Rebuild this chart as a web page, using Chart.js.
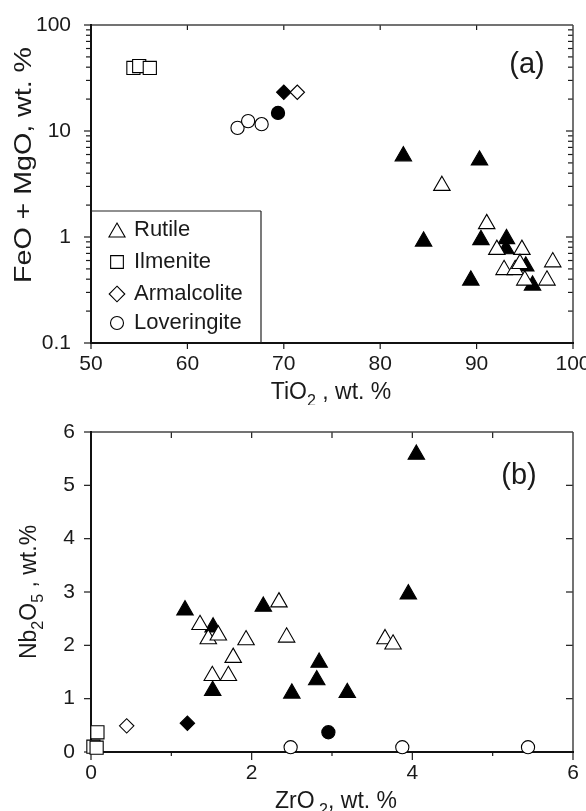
<!DOCTYPE html>
<html><head><meta charset="utf-8">
<script src="https://cdn.jsdelivr.net/npm/chart.js@4.4.0/dist/chart.umd.min.js"></script>
<style>
html,body{margin:0;padding:0;background:#fff;width:586px;height:811px;overflow:hidden}
#wa{position:absolute;left:0;top:0;width:586px;height:405px}
#wb{position:absolute;left:0;top:405px;width:586px;height:406px}
canvas{display:block}
</style></head><body>
<div id="wa"><canvas id="ca" width="586" height="405"></canvas></div>
<div id="wb"><canvas id="cb" width="586" height="406"></canvas></div>
<script>
// ---------- tick labels ----------
const tiO2Ticks = [50, 60, 70, 80, 90, 100];
const feoMgoTicks = [0.1, 1, 10, 100];
const zrO2Ticks = [0, 2, 4, 6];
const nb2O5Ticks = [0, 1, 2, 3, 4, 5, 6];
const legendLabels = ['Rutile', 'Ilmenite', 'Armalcolite', 'Loveringite'];

// ---------- panel (a): TiO2 vs FeO+MgO ----------
const a_rutileOpen_TiO2   = [86.4, 91.05, 92.1, 94.7, 97.9, 92.85, 94.0, 94.5, 95.0, 97.3];
const a_rutileOpen_FeMg   = [3.05, 1.33, 0.76, 0.76, 0.58, 0.49, 0.49, 0.56, 0.39, 0.39];
const a_rutileFilled_TiO2 = [82.4, 90.3, 84.5, 90.45, 93.1, 93.05, 95.1, 95.8, 89.4];
const a_rutileFilled_FeMg = [5.8, 5.3, 0.91, 0.94, 0.96, 0.77, 0.53, 0.35, 0.39];
const a_ilmenite_TiO2     = [54.4, 55.0, 56.1];
const a_ilmenite_FeMg     = [39.3, 41, 39.3];
const a_armOpen_TiO2      = [71.4];
const a_armOpen_FeMg      = [23.2];
const a_armFilled_TiO2    = [70.0];
const a_armFilled_FeMg    = [23.2];
const a_lovOpen_TiO2      = [65.2, 66.3, 67.7];
const a_lovOpen_FeMg      = [10.7, 12.4, 11.6];
const a_lovFilled_TiO2    = [69.4];
const a_lovFilled_FeMg    = [14.8];

// ---------- panel (b): ZrO2 vs Nb2O5 ----------
const b_rutileOpen_ZrO2   = [2.34, 1.357, 1.46, 1.585, 1.93, 2.435, 1.77, 1.51, 1.71, 3.66, 3.76];
const b_rutileOpen_Nb     = [2.81, 2.385, 2.12, 2.19, 2.10, 2.15, 1.77, 1.43, 1.43, 2.12, 2.02];
const b_rutileFilled_ZrO2 = [1.17, 2.145, 1.52, 1.515, 2.50, 2.84, 2.81, 3.19, 4.05, 3.95];
const b_rutileFilled_Nb   = [2.66, 2.73, 2.34, 1.15, 1.10, 1.68, 1.35, 1.11, 5.58, 2.96];
const b_ilmenite_ZrO2     = [0.08, 0.03, 0.07];
const b_ilmenite_Nb       = [0.37, 0.10, 0.08];
const b_armOpen_ZrO2      = [0.444];
const b_armOpen_Nb        = [0.49];
const b_armFilled_ZrO2    = [1.20];
const b_armFilled_Nb      = [0.54];
const b_lovOpen_ZrO2      = [2.485, 3.875, 5.44];
const b_lovOpen_Nb        = [0.09, 0.09, 0.09];
const b_lovFilled_ZrO2    = [2.955];
const b_lovFilled_Nb      = [0.37];

// ---------- styling ----------
const FAM = "'Liberation Sans', Arial, Helvetica, sans-serif";
const INK = '#1a1a1a';
const TICK_FONT = 21;
Chart.defaults.font.family = FAM;
Chart.defaults.color = INK;

const MARK = {
  tri: {style: 'triangle', r: 9.5},
  sq:  {style: 'rect', r: 9.3},
  dia: {style: 'rectRot', r: 7.2},
  cir: {style: 'circle', r: 6.6}
};

function ds(label, xs, ys, m, filled) {
  return {
    label, data: xs.map((x, i) => ({x, y: ys[i]})),
    pointStyle: m.style, pointRadius: m.r, pointHoverRadius: m.r,
    pointBackgroundColor: filled ? '#000' : '#fff',
    pointBorderColor: '#000', pointBorderWidth: 1.1,
    showLine: false, clip: false
  };
}

function line(ctx, x1, y1, x2, y2) { ctx.beginPath(); ctx.moveTo(x1, y1); ctx.lineTo(x2, y2); ctx.stroke(); }

const framePlugin = {
  id: 'frame',
  beforeDatasetsDraw(chart, args, o) {
    const ctx = chart.ctx, ca = chart.chartArea, xs = chart.scales.x, ys = chart.scales.y;
    ctx.save();
    ctx.strokeStyle = INK; ctx.lineWidth = 1.2;
    (o.bottom || []).forEach(t => { const p = xs.getPixelForValue(t[0]); line(ctx, p, ca.bottom, p, ca.bottom + t[1]); });
    (o.top || []).forEach(t => { const p = xs.getPixelForValue(t[0]); line(ctx, p, ca.top, p, ca.top + t[1]); });
    (o.left || []).forEach(t => { const p = ys.getPixelForValue(t[0]); line(ctx, ca.left - t[1], p, ca.left, p); });
    (o.right || []).forEach(t => { const p = ys.getPixelForValue(t[0]); line(ctx, ca.right - t[1], p, ca.right, p); });
    ctx.strokeStyle = '#444'; ctx.lineWidth = 1.5;
    line(ctx, ca.left, ca.top, ca.right, ca.top);
    line(ctx, ca.right, ca.top, ca.right, ca.bottom);
    ctx.strokeStyle = '#111'; ctx.lineWidth = 2;
    line(ctx, ca.left, ca.top - 1, ca.left, ca.bottom + 1);
    line(ctx, ca.left - 1, ca.bottom, ca.right + 1, ca.bottom);
    ctx.restore();
  }
};

function drawRich(ctx, parts, cx, cy, rot, size, targetLen) {
  ctx.save();
  ctx.translate(cx, cy);
  if (rot) ctx.rotate(-Math.PI / 2);
  const sub = size * 0.7;
  let total = 0;
  const ws = parts.map(p => { ctx.font = (p.sub ? sub : size) + 'px ' + FAM; const w = ctx.measureText(p.t).width; total += w; return w; });
  if (targetLen) ctx.scale(targetLen / total, 1);
  ctx.fillStyle = INK; ctx.textBaseline = 'alphabetic'; ctx.textAlign = 'left';
  let x = -total / 2;
  const base = size * 0.716 / 2;
  parts.forEach((p, i) => {
    ctx.font = (p.sub ? sub : size) + 'px ' + FAM;
    ctx.fillText(p.t, x, base + (p.sub ? size * 0.3 : 0));
    x += ws[i];
  });
  ctx.restore();
}

const textPlugin = {
  id: 'texts',
  afterDraw(chart, args, o) {
    const ctx = chart.ctx;
    (o.items || []).forEach(it => drawRich(ctx, it.parts, it.x, it.y, it.rot, it.size, it.len));
    if (o.legend) {
      const L = o.legend;
      ctx.save();
      ctx.strokeStyle = '#222'; ctx.lineWidth = 1.2;
      line(ctx, L.x0, L.y0, L.x1, L.y0);
      line(ctx, L.x1, L.y0, L.x1, chart.chartArea.bottom);
      ctx.font = L.size + 'px ' + FAM; ctx.fillStyle = INK; ctx.textBaseline = 'middle';
      legendLabels.forEach((lab, i) => {
        const y = L.ys[i];
        ctx.fillText(lab, L.tx, y + 1);
        const m = L.marks[i];
        ctx.beginPath();
        ctx.lineWidth = 1.1; ctx.strokeStyle = '#000'; ctx.fillStyle = '#fff';
        const sx = L.sx, r = m.r;
        if (m.style === 'triangle') {
          const yc = y + r / 4 + 1;
          ctx.moveTo(sx, yc - r); ctx.lineTo(sx + r * 0.866, yc + r / 2); ctx.lineTo(sx - r * 0.866, yc + r / 2); ctx.closePath();
        } else if (m.style === 'rect') {
          const h = r * Math.SQRT1_2; ctx.rect(sx - h, y - h + 1, 2 * h, 2 * h);
        } else if (m.style === 'rectRot') {
          ctx.moveTo(sx, y - r + 1); ctx.lineTo(sx + r, y + 1); ctx.lineTo(sx, y + r + 1); ctx.lineTo(sx - r, y + 1); ctx.closePath();
        } else {
          ctx.arc(sx, y + 1, r, 0, Math.PI * 2);
        }
        ctx.fill(); ctx.stroke();
        ctx.fillStyle = INK;
      });
      ctx.restore();
    }
  }
};

function xScale(min, max, step, tickVals) {
  return {
    type: 'linear', position: 'bottom', min, max,
    afterBuildTicks(s) { s.ticks = tickVals.map(v => ({value: v})); },
    ticks: {stepSize: step, font: {size: TICK_FONT}, color: INK, padding: 9, maxRotation: 0, autoSkip: false},
    grid: {display: false, drawTicks: false}, border: {display: false},
    afterFit(s) { s.height = 40; s.paddingLeft = 0; s.paddingRight = 0; }
  };
}
function yScale(type, min, max, tickVals, pad) {
  return {
    type, position: 'left', min, max,
    afterBuildTicks(s) { s.ticks = tickVals.map(v => ({value: v})); },
    ticks: {font: {size: TICK_FONT}, color: INK, padding: pad, autoSkip: false, callback: v => String(v)},
    grid: {display: false, drawTicks: false}, border: {display: false},
    afterFit(s) { s.width = 91; s.paddingTop = 0; s.paddingBottom = 0; }
  };
}

// log minor ticks
const logTicksL = [], logTicksR = [];
[0.1, 1, 10].forEach(d => { for (let k = 1; k <= 9; k++) { const v = +(d * k).toPrecision(3); const major = k === 1; logTicksL.push([v, major ? 7 : 5]); if (v > 0.1) logTicksR.push([v, major ? 7 : 5]); } });
logTicksL.push([100, 7]);

new Chart(document.getElementById('ca'), {
  type: 'scatter',
  data: {datasets: [
    ds('Rutile open', a_rutileOpen_TiO2, a_rutileOpen_FeMg, MARK.tri, false),
    ds('Rutile filled', a_rutileFilled_TiO2, a_rutileFilled_FeMg, MARK.tri, true),
    ds('Ilmenite', a_ilmenite_TiO2, a_ilmenite_FeMg, MARK.sq, false),
    ds('Armalcolite open', a_armOpen_TiO2, a_armOpen_FeMg, MARK.dia, false),
    ds('Armalcolite filled', a_armFilled_TiO2, a_armFilled_FeMg, MARK.dia, true),
    ds('Loveringite open', a_lovOpen_TiO2, a_lovOpen_FeMg, MARK.cir, false),
    ds('Loveringite filled', a_lovFilled_TiO2, a_lovFilled_FeMg, MARK.cir, true)
  ]},
  options: {
    responsive: false, animation: false, devicePixelRatio: 1,
    layout: {padding: {left: 0, top: 25, right: 13, bottom: 22}, autoPadding: false},
    scales: {x: xScale(50, 100, 10, tiO2Ticks), y: yScale('logarithmic', 0.1, 100, feoMgoTicks, 20)},
    plugins: {
      legend: {display: false}, tooltip: {enabled: false},
      frame: {
        bottom: tiO2Ticks.map(v => [v, 6]),
        top: [60, 70, 80, 90].map(v => [v, 5]),
        left: logTicksL, right: logTicksR
      },
      texts: {
        items: [
          {parts: [{t: '(a)'}], x: 527, y: 63, size: 29},
          {parts: [{t: 'TiO'}, {t: '2', sub: true}, {t: ' , wt. %'}], x: 331, y: 391, size: 23},
          {parts: [{t: 'FeO + MgO, wt. %'}], x: 23, y: 165, rot: true, size: 23, len: 236}
        ],
        legend: {
          x0: 91, y0: 211, x1: 261, size: 22, tx: 134, sx: 117,
          ys: [229, 261, 293, 322],
          marks: [{style: 'triangle', r: 9.3}, {style: 'rect', r: 9}, {style: 'rectRot', r: 7.8}, {style: 'circle', r: 6.5}]
        }
      }
    }
  },
  plugins: [framePlugin, textPlugin]
});

new Chart(document.getElementById('cb'), {
  type: 'scatter',
  data: {datasets: [
    ds('Rutile open', b_rutileOpen_ZrO2, b_rutileOpen_Nb, MARK.tri, false),
    ds('Rutile filled', b_rutileFilled_ZrO2, b_rutileFilled_Nb, MARK.tri, true),
    ds('Ilmenite', b_ilmenite_ZrO2, b_ilmenite_Nb, MARK.sq, false),
    ds('Armalcolite open', b_armOpen_ZrO2, b_armOpen_Nb, MARK.dia, false),
    ds('Armalcolite filled', b_armFilled_ZrO2, b_armFilled_Nb, MARK.dia, true),
    ds('Loveringite open', b_lovOpen_ZrO2, b_lovOpen_Nb, MARK.cir, false),
    ds('Loveringite filled', b_lovFilled_ZrO2, b_lovFilled_Nb, MARK.cir, true)
  ]},
  options: {
    responsive: false, animation: false, devicePixelRatio: 1,
    layout: {padding: {left: 0, top: 27, right: 13, bottom: 19}, autoPadding: false},
    scales: {x: xScale(0, 6, 2, zrO2Ticks), y: yScale('linear', 0, 6, nb2O5Ticks, 16)},
    plugins: {
      legend: {display: false}, tooltip: {enabled: false},
      frame: {
        bottom: [[0, 8], [1, 4], [2, 8], [3, 4], [4, 8], [5, 4], [6, 8]],
        top: [1, 2, 3, 4, 5].map(v => [v, 6]),
        left: nb2O5Ticks.map(v => [v, 7]),
        right: [1, 2, 3, 4, 5].map(v => [v, 7])
      },
      texts: {
        items: [
          {parts: [{t: '(b)'}], x: 519, y: 69, size: 29},
          {parts: [{t: 'ZrO'}, {t: ' 2', sub: true}, {t: ', wt. %'}], x: 336, y: 395, size: 23},
          {parts: [{t: 'Nb'}, {t: '2', sub: true}, {t: 'O'}, {t: '5', sub: true}, {t: ' , wt.%'}], x: 28, y: 187, rot: true, size: 23}
        ]
      }
    }
  },
  plugins: [framePlugin, textPlugin]
});
</script>
</body></html>
